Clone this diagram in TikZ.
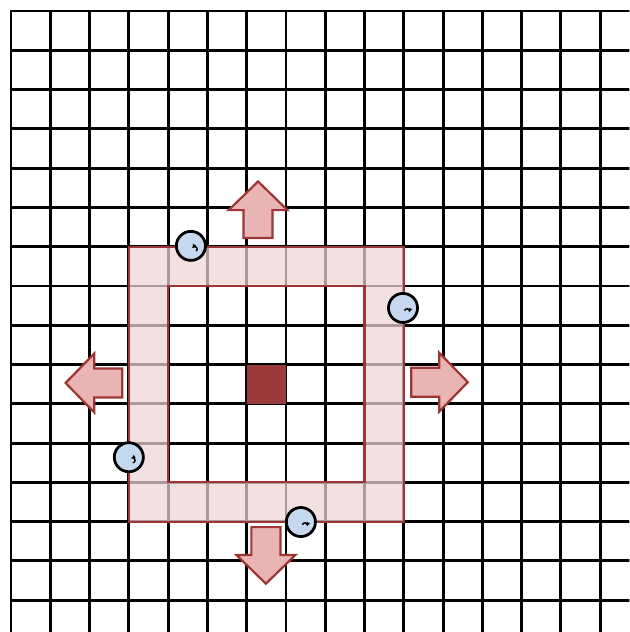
\documentclass[tikz,border=0pt]{standalone}
\usetikzlibrary{arrows.meta}
\definecolor{bandred}{RGB}{158,54,54}
\definecolor{bandfill}{RGB}{239,214,214}
\definecolor{pushfill}{RGB}{232,180,180}
\definecolor{corered}{RGB}{155,58,58}
\definecolor{spinblue}{RGB}{198,216,240}
% block arrow: tail centre (x,y), direction angle
\newcommand{\pusharrow}[3]{%
  \draw[pushstyle,shift={(#1,#2)},rotate=#3] (0,0.37)--(0.71,0.37)--(0.71,0.75)--(1.44,0)--(0.71,-0.75)--(0.71,-0.37)--(0,-0.37)--cycle;}
% spin marker: centre (x,y), start and end angle of the small arc
\newcommand{\spinmark}[4]{%
  \draw[spinstyle] (#1,#2) circle (0.37);
  \draw[line width=1pt,-{Latex[length=2.6pt,width=3pt]},shift={(#1,#2)}] (0.1,-0.08) ++(#3:0.06) arc[start angle=#3,end angle=#4,radius=0.06];}

\begin{document}
\begin{tikzpicture}[>=Latex,
  gridline/.style={line width=2.1pt,line cap=rect},
  pushstyle/.style={fill=pushfill,draw=bandred,line width=1.6pt},
  spinstyle/.style={fill=spinblue,draw=black,line width=2pt}]
  \clip (-0.28,0.28) rectangle (15.74,-15.81);
  \fill[white] (-0.28,0.28) rectangle (15.74,-15.81);
  % lattice
  \draw[gridline] (0,-16) grid (16,0);
  % moving domain wall
  \fill[bandfill,fill opacity=0.72,even odd rule] (3,-6) rectangle (10,-13) (4,-7) rectangle (9,-12);
  \draw[bandred,line width=1.6pt] (3,-6) rectangle (10,-13);
  \draw[bandred,line width=1.6pt] (4,-7) rectangle (9,-12);
  \fill[corered] (6,-9) rectangle (7,-10);
  % growth directions
  \pusharrow{6.29}{-5.78}{90}
  \pusharrow{10.19}{-9.45}{0}
  \pusharrow{2.83}{-9.47}{180}
  \pusharrow{6.49}{-13.14}{-90}
  % spins on the wall
  \spinmark{4.58}{-5.98}{-60}{150}
  \spinmark{9.98}{-7.56}{170}{-20}
  \spinmark{3.0}{-11.36}{-90}{120}
  \spinmark{7.38}{-13.01}{170}{-20}
\end{tikzpicture}
\end{document}
